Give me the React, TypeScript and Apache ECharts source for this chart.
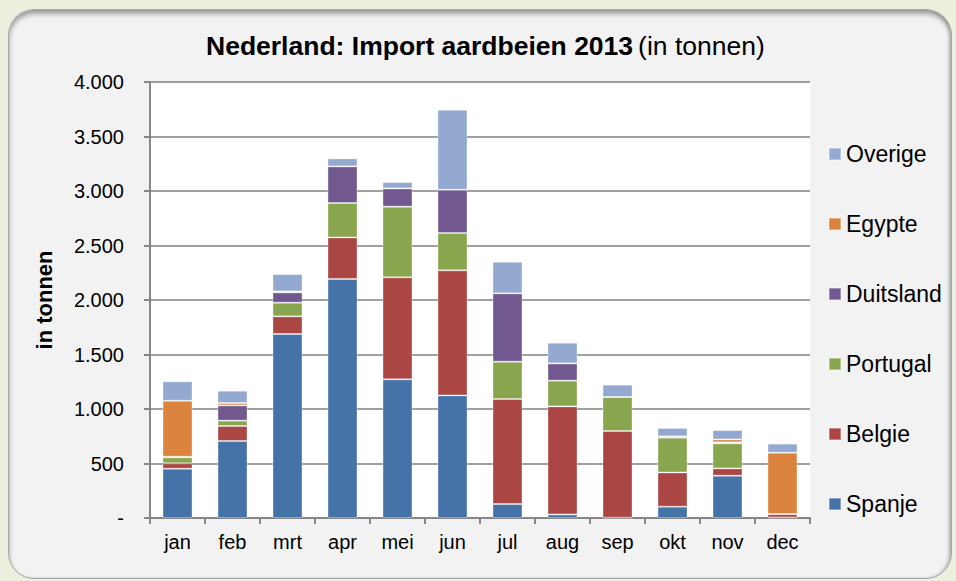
import React, { useEffect, useRef } from "react";
import * as echarts from "echarts";

const months = ["jan", "feb", "mrt", "apr", "mei", "jun", "jul", "aug", "sep", "okt", "nov", "dec"];
const spanje = [452, 706, 1688, 2193, 1272, 1125, 128, 33, 3, 104, 388, 5];
const belgie = [50, 138, 162, 381, 936, 1147, 964, 991, 795, 314, 67, 32];
const portugal = [55, 49, 125, 316, 648, 342, 342, 236, 312, 319, 230, 0];
const duitsland = [5, 140, 95, 336, 168, 398, 627, 158, 0, 12, 9, 0];
const egypte = [514, 22, 9, 0, 0, 0, 0, 0, 0, 0, 27, 562];
const overige = [178, 113, 159, 73, 58, 734, 290, 190, 113, 77, 86, 83];

const seriesDefs = [
  { name: "Spanje", data: spanje, color: "#4572A7" },
  { name: "Belgie", data: belgie, color: "#AA4643" },
  { name: "Portugal", data: portugal, color: "#89A54E" },
  { name: "Duitsland", data: duitsland, color: "#71588F" },
  { name: "Egypte", data: egypte, color: "#DB843D" },
  { name: "Overige", data: overige, color: "#93A9CF" },
];

const FONT = "'Liberation Sans', Arial, sans-serif";

export default function App() {
  const ref = useRef<HTMLDivElement>(null);
  useEffect(() => {
    if (!ref.current) return;
    const chart = echarts.init(ref.current, undefined, { renderer: "svg" });
    chart.setOption({
      animation: false,
      backgroundColor: "transparent",
      textStyle: { fontFamily: FONT },
      title: {
        text: "{b|Nederland: Import aardbeien 2013} {n|(in tonnen)}",
        left: 206,
        top: 32,
        padding: 0,
        textStyle: {
          rich: {
            b: { fontWeight: "bold", fontSize: 26.5, fontFamily: FONT, color: "#000" },
            n: { fontWeight: "normal", fontSize: 26.5, fontFamily: FONT, color: "#000" },
          },
        },
      },
      legend: {
        orient: "vertical",
        left: 828,
        top: 142,
        padding: 0,
        itemWidth: 12,
        itemHeight: 12,
        itemGap: 46,
        icon: "rect",
        data: seriesDefs.map((s) => s.name).reverse(),
        textStyle: { fontSize: 23, fontFamily: FONT, color: "#000", lineHeight: 24, padding: [0, 0, 0, 0] },
      },
      grid: { left: 150, top: 82, right: 146, bottom: 63, containLabel: false, show: true, backgroundColor: "#ffffff", borderWidth: 0 },
      xAxis: {
        type: "category",
        data: months,
        axisLine: { show: true, lineStyle: { color: "#868686", width: 2 } },
        axisTick: { show: true, alignWithLabel: false, length: 6, lineStyle: { color: "#868686", width: 2 } },
        axisLabel: { fontSize: 20, color: "#000", fontFamily: FONT, margin: 14 },
      },
      yAxis: {
        type: "value",
        min: 0,
        max: 4000,
        interval: 500,
        name: "in tonnen",
        nameLocation: "middle",
        nameGap: 95,
        nameTextStyle: { fontSize: 22, fontWeight: "bold", color: "#000", fontFamily: FONT },
        axisLine: { show: true, lineStyle: { color: "#868686", width: 2 } },
        axisTick: { show: true, length: 6, lineStyle: { color: "#868686", width: 2 } },
        axisLabel: {
          fontSize: 20,
          color: "#000",
          fontFamily: FONT,
          margin: 26,
          formatter: (v: number) => (v === 0 ? "-" : v.toLocaleString("nl-NL").replace(/,/g, ".")),
        },
        splitLine: { show: true, lineStyle: { color: "#808080", width: 1.6 } },
      },
      series: seriesDefs.map((s) => ({
        name: s.name,
        type: "bar",
        stack: "total",
        data: s.data,
        barWidth: 30,
        itemStyle: { color: s.color, borderColor: "rgba(255,255,255,0.35)", borderWidth: 1 },
      })),
    });
    return () => chart.dispose();
  }, []);
  return (
    <div style={{ position: "fixed", left: 0, top: 0, width: 956, height: 581, background: "#ebf1de" }}>
      <div
        style={{
          position: "absolute",
          left: 8,
          top: 9,
          width: 944,
          height: 570,
          boxSizing: "border-box",
          borderRadius: 26,
          background: "#f2f2f2",
          border: "1px solid #a6a6a6",
          boxShadow: "inset 0 4px 5px rgba(0,0,0,0.35), inset -2px 0 3px rgba(0,0,0,0.15)",
        }}
      />
      <div ref={ref} style={{ position: "absolute", left: 0, top: 0, width: 956, height: 581 }} />
    </div>
  );
}
